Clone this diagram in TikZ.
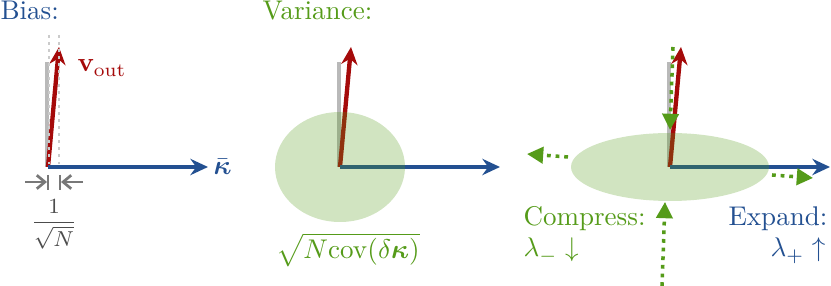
\documentclass[tikz,border=0pt]{standalone}
\usepackage{amsmath,bm}
\usetikzlibrary{arrows.meta,positioning,calc}
\definecolor{biasblue}{RGB}{35,80,145}
\definecolor{outred}{RGB}{165,10,10}
\definecolor{vargreen}{RGB}{85,155,25}
\definecolor{ghostgray}{RGB}{185,185,185}
\definecolor{dimgray}{RGB}{120,120,120}

\begin{document}
\begin{tikzpicture}[
        x=0.013cm, y=-0.013cm,
        kappa/.style={draw=biasblue, line width=1.6pt, -{Stealth[length=6.5pt, width=6pt]}},
        vout/.style={draw=outred, line width=1.6pt, -{Stealth[length=6.5pt, width=6pt]}},
        ghost/.style={draw=ghostgray, line width=1.6pt},
        guide/.style={draw=ghostgray!75, line width=1.1pt, dash pattern=on 1.1pt off 1.5pt},
        dim/.style={draw=dimgray, line width=1pt, -{Straight Barb[length=3pt, width=5pt]}},
        flow/.style={draw=vargreen, line width=1.3pt, dash pattern=on 1.4pt off 1.8pt, -{Triangle[length=6pt, width=6pt]}},
        cloud/.style={fill=vargreen, fill opacity=0.27},
        title/.style={inner sep=0pt, anchor=base west},
    ]
        \useasboundingbox (0,0) rectangle (831,286);

        % Axes of the three panels
        \foreach \ox/\p in {48/a, 340/b, 670/c} {
            \coordinate (o\p) at (\ox,167);
            \coordinate (g\p) at (\ox-1,62);
            \coordinate (o\p') at (\ox-1,167);
            \coordinate (v\p) at (\ox+11,47);
            \coordinate (k\p) at (\ox+160,167);
            \draw[ghost] (o\p') -- (g\p);
            \draw[vout] (o\p) -- (v\p);
            \draw[kappa] (o\p) -- (k\p);
        }

        % Bias
        \node[title, text=biasblue] (bias) at (0,20) {Bias:};
        \node[text=outred, anchor=base west, inner sep=0pt] (voutlabel) at (77,72) {$\mathbf{v}_{\text{out}}$};
        \node[text=biasblue, anchor=west, inner sep=0pt] (kbar) at (213,167) {$\bar{\bm{\kappa}}$};
        \coordinate (gl1) at (49,35);
        \coordinate (gl2) at (49,167);
        \coordinate (gr1) at (59,35);
        \coordinate (gr2) at (59,167);
        \draw[guide] (gl1) -- (gl2);
        \draw[guide] (gr1) -- (gr2);
        \coordinate (tl1) at (48,175);
        \coordinate (tl2) at (48,190);
        \coordinate (tr1) at (60,175);
        \coordinate (tr2) at (60,190);
        \draw[dimgray, line width=1pt] (tl1) -- (tl2) (tr1) -- (tr2);
        \coordinate (dl) at (25,182);
        \coordinate (dl') at (47,182);
        \coordinate (dr) at (83,182);
        \coordinate (dr') at (61,182);
        \draw[dim] (dl) -- (dl');
        \draw[dim] (dr) -- (dr');
        \node[text=black!70, font=\footnotesize, inner sep=0pt] (width) at (54,224) {$\dfrac{1}{\sqrt{N}}$};

        % Variance
        \node[title, text=vargreen] (variance) at (262,20) {Variance:};
        \fill[cloud] (ob) ellipse [x radius=65, y radius=55];
        \node[text=vargreen] (cov) at (348,250) {$\sqrt{N\mathrm{cov}(\delta\bm{\kappa})}$};

        % Compress and expand
        \fill[cloud] (oc) ellipse [x radius=99, y radius=34];
        \coordinate (fd1) at (673,47);
        \coordinate (fd2) at (670,130);
        \coordinate (fl1) at (568,157);
        \coordinate (fl2) at (527,154);
        \coordinate (fr1) at (772,175);
        \coordinate (fr2) at (813,178);
        \coordinate (fu1) at (662,286);
        \coordinate (fu2) at (665,202);
        \draw[flow] (fd1) -- (fd2);
        \draw[flow] (fl1) -- (fl2);
        \draw[flow] (fr1) -- (fr2);
        \draw[flow] (fu1) -- (fu2);
        \node[title, text=vargreen] (compress) at (523,226) {Compress:};
        \node[title, text=vargreen] (lminus) at (523,257) {$\lambda_- \downarrow$};
        \node[title, text=biasblue] (expand) at (728,226) {Expand:};
        \node[inner sep=0pt, anchor=base east, text=biasblue] (lplus) at (826,257) {$\lambda_+ \uparrow$};
\end{tikzpicture}
\end{document}
